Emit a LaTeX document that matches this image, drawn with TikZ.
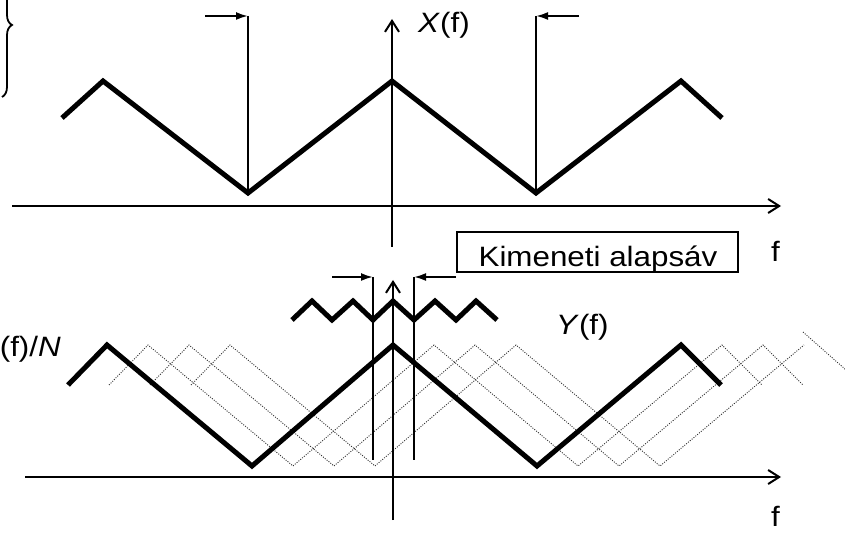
\documentclass[tikz,border=0pt]{standalone}
\usepackage{fontspec}
\usepackage{graphicx}
\setmainfont{Liberation Sans}
\usetikzlibrary{arrows.meta,decorations.pathreplacing}
\newcommand{\lbl}[1]{\scalebox{1.12}[1]{\fontsize{28}{30}\selectfont #1}}
\begin{document}
\begin{tikzpicture}[x=1pt,y=-1pt,
  wave/.style={line width=5pt, line join=miter},
  ghost/.style={line width=0.9pt, gray!40!black, dash pattern=on 1pt off 1.4pt},
  axis/.style={line width=2pt, -{Straight Barb[length=11pt,width=14pt,line width=2pt]}},
  marker/.style={line width=2.5pt},
  pointer/.style={line width=2pt, -{Latex[length=12pt,width=8pt]}},
  lab/.style={inner sep=0pt}]
\useasboundingbox (0,0) rectangle (845,534);

% ---------- top plot ----------
\draw[decorate, decoration={brace, amplitude=10pt}, line width=1.8pt] (2,-47) -- (2,97);

\draw[wave] (62,118) -- (103,81) -- (248,193) -- (392,81) -- (536,193) -- (681,81) -- (722,118);

\coordinate (tlA) at (205,16);
\coordinate (tlB) at (248,16);
\coordinate (tlC) at (248,193);
\coordinate (trA) at (579,16);
\coordinate (trB) at (536,16);
\coordinate (trC) at (536,193);
\draw[marker] (tlB) -- (tlC);
\draw[marker] (trB) -- (trC);
\draw[pointer] (tlA) -- (tlB);
\draw[pointer] (trA) -- (trB);

\coordinate (thA) at (12,206);
\coordinate (thB) at (781,206);
\coordinate (tvA) at (392,247);
\coordinate (tvB) at (392,19);
\draw[axis] (thA) -- (thB);
\draw[axis] (tvA) -- (tvB);

\node[lab, anchor=base west] (xf) at (418,33) {\lbl{\textit{X}(f)}};
\node[lab, anchor=base west] (f1) at (771,262) {\lbl{f}};

% box
\node[draw, line width=2pt, minimum width=281pt, minimum height=40pt, inner sep=0pt] (kbox) at (597.5,252) {};
\node[lab, anchor=base] (ktext) at (598,267) {\lbl{Kimeneti alapsáv}};

% ---------- bottom plot ----------
\foreach \s in {41,82} {
  \draw[ghost] (68+\s,385) -- (107+\s,345) -- (252+\s,466) -- (393+\s,345) -- (537+\s,466) -- (681+\s,345) -- (721+\s,385);
}
\draw[ghost] (191,385) -- (230,345) -- (375,466) -- (516,345) -- (660,466) -- (804,345);
\draw[ghost] (803,332) -- (846,370);

\draw[wave] (68,385) -- (107,345) -- (252,466) -- (393,345) -- (537,466) -- (681,345) -- (721,385);

\draw[wave] (292,320) -- (312,301) -- (332,320) -- (353,301) -- (373,320) -- (393,301) -- (414,320) -- (435,301) -- (456,320) -- (476,301) -- (497,320);

\coordinate (blA) at (332,277);
\coordinate (blB) at (373,277);
\coordinate (blC) at (373,460);
\coordinate (brA) at (456,277);
\coordinate (brB) at (414,277);
\coordinate (brC) at (414,460);
\draw[marker] (blB) -- (blC);
\draw[marker] (brB) -- (brC);
\draw[pointer] (blA) -- (blB);
\draw[pointer] (brA) -- (brB);

\coordinate (bhA) at (25,477);
\coordinate (bhB) at (781,477);
\coordinate (bvA) at (393,520);
\coordinate (bvB) at (393,280);
\draw[axis] (bhA) -- (bhB);
\draw[axis] (bvA) -- (bvB);

\node[lab, anchor=base west] (yf) at (556,334) {\lbl{\textit{Y}(f)}};
\node[lab, anchor=base east] (xn) at (61,356) {\lbl{(f)/\textit{N}}};
\node[lab, anchor=base west] (f2) at (771,526) {\lbl{f}};
\end{tikzpicture}
\end{document}
